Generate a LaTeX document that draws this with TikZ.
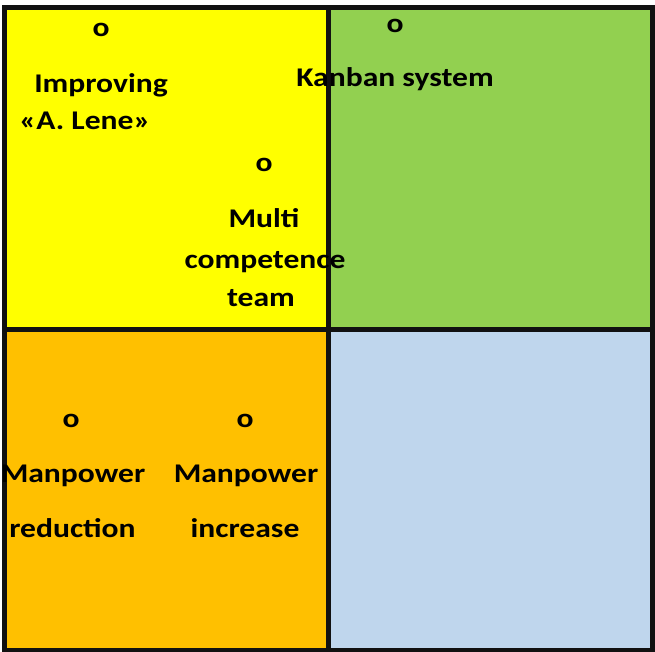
\documentclass[tikz,border=0pt]{standalone}
\usepackage{fontspec}
\setmainfont{Carlito}[FakeStretch=1.17]
\definecolor{qyellow}{HTML}{FFFF00}
\definecolor{qgreen}{HTML}{92D050}
\definecolor{qorange}{HTML}{FFC000}
\definecolor{qblue}{HTML}{BFD6ED}
\definecolor{qline}{HTML}{111111}
\tikzset{
  lbl/.style={anchor=base, inner sep=0pt, font=\fontsize{27}{30}\selectfont\bfseries, text=black},
  frame/.style={draw=qline, line width=5pt}
}
\begin{document}
\begin{tikzpicture}[x=1pt,y=-1pt]
\useasboundingbox (0,0) rectangle (655,652);
% quadrants
\fill[qyellow] (4.75,7.5) rectangle (328.75,329);
\fill[qgreen] (328.75,7.5) rectangle (652.5,329);
\fill[qorange] (4.75,329) rectangle (328.75,650);
\fill[qblue] (328.75,329) rectangle (652.5,650);
% frame and dividers
\draw[frame] (4.75,7.5) rectangle (652.5,650);
\draw[frame] (328.75,7.5) -- (328.75,650);
\draw[frame] (4.75,329) -- (652.5,329);
% top-left
\node[lbl] (o1) at (101,37) {o};
\node[lbl] (imp) at (101,93) {Improving};
\node[lbl] (lene) at (85,130) {«A. Lene»};
% kanban
\node[lbl] (o2) at (395,33) {o};
\node[lbl] (kan) at (395,87) {Kanban system};
% multi
\node[lbl] (o3) at (264,172) {o};
\node[lbl] (mul) at (264,227) {Multi};
\node[lbl] (comp) at (265,268) {competence};
\node[lbl] (team) at (261,306) {team};
% manpower reduction
\node[lbl] (o4) at (71,427) {o};
\node[lbl] (man1) at (73,482) {Manpower};
\node[lbl] (red) at (72.5,537) {reduction};
% manpower increase
\node[lbl] (o5) at (245,427) {o};
\node[lbl] (man2) at (246,482) {Manpower};
\node[lbl] (inc) at (245,537) {increase};
\end{tikzpicture}
\end{document}
